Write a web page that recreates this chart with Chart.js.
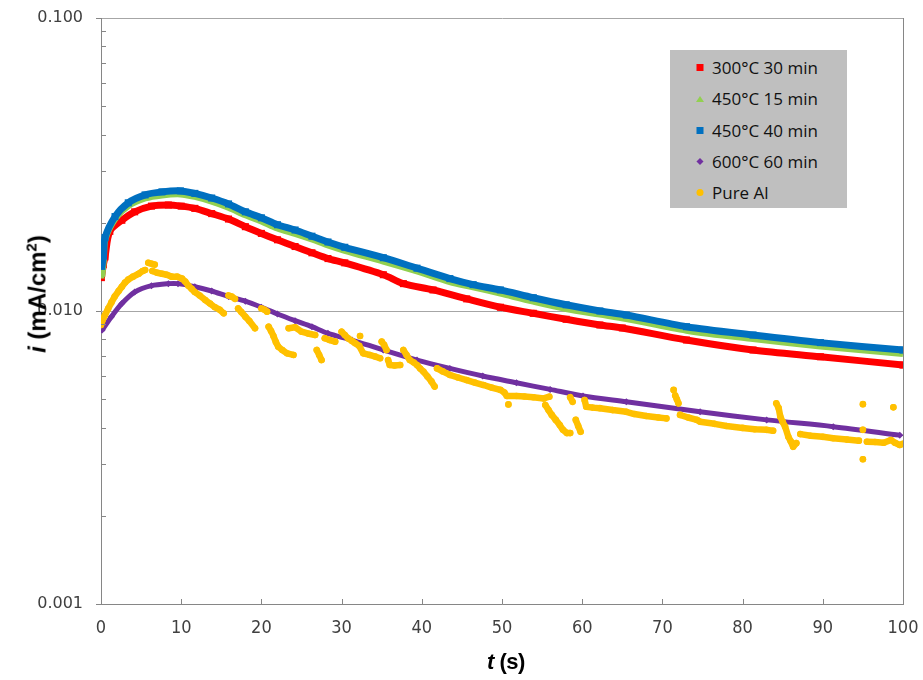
<!DOCTYPE html>
<html>
<head>
<meta charset="utf-8">
<script src="https://cdn.jsdelivr.net/npm/chart.js@4.4.1/dist/chart.umd.min.js"></script>
<style>
  html, body { margin: 0; padding: 0; background: #fff; }
  #wrap { position: relative; width: 923px; height: 680px; }
  #chart { position: absolute; left: 0; top: 0; }
  .ttl { position: absolute; font-family: 'Liberation Sans', Arial, sans-serif; font-weight: bold; color: #000; white-space: nowrap; }
  #ytitle { left: 37px; top: 294px; font-size: 24px; transform: translate(-50%, -50%) rotate(-90deg); }
  #xtitle { left: 506px; top: 662px; font-size: 22px; letter-spacing: -0.5px; transform: translate(-50%, -50%); }
  #legend { position: absolute; left: 670px; top: 50px; width: 177px; height: 158px; background: #BFBFBF; }
  .row { position: absolute; left: 0; height: 31px; display: flex; align-items: center; font-family: 'Open Sans', sans-serif; font-size: 17px; color: #111; }
  .mk { position: absolute; left: 30px; transform: translate(-50%, 0); }
  .txt { position: absolute; left: 42px; white-space: nowrap; }
</style>
</head>
<body>
<div id="wrap">
  <canvas id="chart" width="923" height="680"></canvas>
  <div id="ytitle" class="ttl"><i>i</i> (mA/cm<sup style="font-size:15px">2</sup>)</div>
  <div id="xtitle" class="ttl"><i>t</i> (s)</div>
  <div id="legend"></div>
</div>
<script>
// Series names and colours
const seriesNames = ['300°C 30 min', '450°C 15 min', '450°C 40 min', '600°C 60 min', 'Pure Al'];
const seriesColors = ['#FF0000', '#92D050', '#0070C0', '#7030A0', '#FFC000'];

// Axis ticks
const xTicks = [0, 10, 20, 30, 40, 50, 60, 70, 80, 90, 100];
const yMajorTicks = [0.001, 0.01, 0.1];

// 300°C 30 min
const t300 = [0.05, 0.3, 0.5, 1.1, 2.6, 4.2, 6.3, 8.4, 10, 11.7, 13.8, 15.9, 18, 20, 22, 24.2, 26.3, 28.3, 30.4, 35.2, 37.7, 41.4, 45.6, 49.8, 53.9, 58, 62.2, 65, 73, 81.3, 89.7, 100];
const i300 = [0.0130, 0.0144, 0.0153, 0.0187, 0.0204, 0.0218, 0.0228, 0.0230, 0.0228, 0.0224, 0.0215, 0.0206, 0.0194, 0.0184, 0.0175, 0.0166, 0.0158, 0.0151, 0.0146, 0.0133, 0.0124, 0.0118, 0.0110, 0.0103, 0.00982, 0.00937, 0.00896, 0.00875, 0.00796, 0.00736, 0.00698, 0.00654];

// 450°C 15 min
const t450a = [0.1, 0.3, 0.5, 1.75, 3.4, 5.5, 7.6, 9.9, 11.7, 13.8, 15.9, 18, 20, 22, 24.2, 26.3, 28.3, 30.4, 35.2, 39.4, 43.5, 46.4, 49.8, 53.9, 58, 62.2, 65.5, 73, 81.3, 89.7, 100];
const i450a = [0.0131, 0.0150, 0.0176, 0.0207, 0.0229, 0.0243, 0.0249, 0.0251, 0.0246, 0.0237, 0.0226, 0.0213, 0.0203, 0.0192, 0.0184, 0.0176, 0.0168, 0.0161, 0.0148, 0.0137, 0.0126, 0.0121, 0.0115, 0.0108, 0.0102, 0.00976, 0.00943, 0.00860, 0.00805, 0.00759, 0.00716];

// 450°C 40 min
const t450b = [0.1, 0.3, 0.5, 1.75, 3.4, 5.5, 7.6, 9.9, 11.7, 13.8, 15.9, 18, 20, 22, 24.2, 26.3, 28.3, 30.4, 35.2, 39.4, 43.5, 46.4, 49.8, 53.9, 58, 62.2, 65.5, 73, 81.3, 89.7, 100];
const i450b = [0.0142, 0.0154, 0.0178, 0.0210, 0.0234, 0.0249, 0.0255, 0.0257, 0.0252, 0.0243, 0.0232, 0.0218, 0.0208, 0.0197, 0.0189, 0.0180, 0.0172, 0.0165, 0.0152, 0.0140, 0.0129, 0.0123, 0.0118, 0.0111, 0.0105, 0.0100, 0.00969, 0.00884, 0.00828, 0.00780, 0.00736];

// 600°C 60 min
const t600 = [0.15, 1.3, 2.6, 4.2, 6.3, 8.4, 9.6, 11.7, 13.8, 15.9, 18, 20, 22, 24.2, 26.3, 28.3, 31.3, 35.2, 39.4, 43.5, 47.6, 51.8, 56, 60.1, 65.5, 74.7, 83, 91.3, 99.6];
const i600 = [0.00861, 0.00956, 0.0106, 0.0116, 0.0122, 0.0124, 0.0124, 0.0121, 0.0117, 0.0112, 0.0108, 0.0103, 0.00977, 0.00927, 0.00884, 0.00839, 0.00796, 0.00736, 0.00680, 0.00637, 0.00600, 0.00569, 0.00540, 0.00513, 0.00490, 0.00453, 0.00425, 0.00403, 0.00377];

// Pure Al (null separates runs of readings)
const tAl = [
  0, 0.2, 0.5, 0.9, 1.3, 1.7, 2.2, 2.6, 3.0, 3.4, 4.0, 4.7, 5.2, 5.5, null,
  5.9, 6.3, 6.7, null,
  6.4, 7.0, 7.6, 8.2, 8.8, 9.5, 10.1, 10.5, 10.9, 11.3, 11.7, 12.3, 13.0, 13.6, 14.2, 14.8, 15.3, null,
  15.9, 16.3, 16.7, null,
  17.1, 17.5, 18.0, 18.5, 19.2, null,
  20.0, 20.4, 20.7, null,
  20.9, 21.2, 21.5, 21.8, 22.1, 22.6, 23.2, 24.0, null,
  23.4, 24.2, 25.0, 25.8, 26.7, null,
  26.9, 27.2, 27.5, null,
  27.9, 28.5, 29.2, null,
  30.0, 30.4, 30.8, 31.3, 31.7, 32.2, 32.7, 33.5, 34.2, 34.8, null,
  32.3, null,
  35.0, 35.3, 35.6, null,
  35.8, 36.0, 36.6, 37.3, null,
  37.7, 38.1, 38.5, 39.0, 39.4, 39.8, 40.2, 40.7, 41.2, 41.6, null,
  41.9, 42.6, 43.5, 44.5, 45.6, 46.6, 47.7, 48.7, 49.8, 50.3, 50.6, 51.8, 52.8, 53.9, 55.2, 55.9, null,
  50.8, null,
  55.4, 55.8, 56.2, 56.7, 57.2, 57.6, 58.1, 58.5, null,
  58.5, 58.8, null,
  59.2, 59.5, 59.8, null,
  60.3, 60.5, 61.3, 62.2, 63.8, 65.5, 66.5, 68.0, 69.5, 70.5, null,
  71.4, null,
  71.6, 71.8, 72.0, null,
  72.2, 73.2, 74.3, 74.7, 76.5, 78.0, 80.0, 81.5, 83.0, 83.8, null,
  84.2, 84.5, 84.7, 85.0, 85.3, 85.7, 86.0, 86.3, 86.7, null,
  87.2, 88.5, 90.0, 91.3, 93.0, 94.5, null,
  95.5, 96.5, 97.6, 98.5, 99.0, 99.6, 100, null,
  95.0, null, 95.0, null, 95.0, null, 98.8
];
const iAl = [
  0.00896, 0.00932, 0.00969, 0.0102, 0.0107, 0.0112, 0.0117, 0.0121, 0.0125, 0.0128, 0.0131, 0.0134, 0.0137, 0.0138, null,
  0.0146, 0.0145, 0.0144, null,
  0.0137, 0.0135, 0.0134, 0.0133, 0.0131, 0.0131, 0.0129, 0.0126, 0.0122, 0.0119, 0.0116, 0.0113, 0.0109, 0.0106, 0.0103, 0.0101, 0.00982, null,
  0.0113, 0.0112, 0.0110, null,
  0.0102, 0.00992, 0.00956, 0.00924, 0.00873, null,
  0.0102, 0.0101, 0.00995, null,
  0.00884, 0.00855, 0.00822, 0.00784, 0.00755, 0.00736, 0.00717, 0.00708, null,
  0.00873, 0.00880, 0.00850, 0.00838, 0.00828, null,
  0.00736, 0.00708, 0.00680, null,
  0.00807, 0.00796, 0.00786, null,
  0.00850, 0.00828, 0.00807, 0.00790, 0.00776, 0.00760, 0.00717, 0.00708, 0.00699, 0.00690, null,
  0.00822, null,
  0.00786, 0.00766, 0.00736, null,
  0.00680, 0.00654, 0.00652, 0.00654, null,
  0.00736, 0.00708, 0.00680, 0.00667, 0.00654, 0.00636, 0.00621, 0.00598, 0.00575, 0.00552, null,
  0.00637, 0.00622, 0.00605, 0.00593, 0.00581, 0.00570, 0.00559, 0.00548, 0.00538, 0.00527, 0.00513, 0.00513, 0.00511, 0.00508, 0.00503, 0.00510, null,
  0.00480, null,
  0.00478, 0.00459, 0.00442, 0.00425, 0.00408, 0.00393, 0.00383, 0.00383, null,
  0.00508, 0.00490, null,
  0.00425, 0.00405, 0.00387, null,
  0.00497, 0.00471, 0.00468, 0.00466, 0.00459, 0.00453, 0.00445, 0.00438, 0.00433, 0.00430, null,
  0.00538, null,
  0.00515, 0.00500, 0.00484, null,
  0.00442, 0.00433, 0.00425, 0.00419, 0.00412, 0.00405, 0.00399, 0.00395, 0.00393, 0.00390, null,
  0.00484, 0.00466, 0.00436, 0.00418, 0.00403, 0.00372, 0.00359, 0.00344, 0.00354, null,
  0.00380, 0.00375, 0.00372, 0.00368, 0.00364, 0.00361, null,
  0.00358, 0.00357, 0.00355, 0.00363, 0.00355, 0.00349, 0.00352, null,
  0.00481, null, 0.00393, null, 0.00312, null, 0.00469
];

const pts = (ts, vs) => ts.map((t, k) => ({ x: t, y: vs[k] }));

const smoothSeries = (k, ts, vs, style, radius, width, order) => ({
  label: seriesNames[k],
  data: pts(ts, vs),
  showLine: true,
  borderColor: seriesColors[k],
  backgroundColor: seriesColors[k],
  borderWidth: width,
  pointStyle: style,
  pointRadius: radius,
  pointBorderWidth: 0,
  tension: 0.3,
  order: order
});

const datasets = [
  smoothSeries(0, t300, i300, 'rect', 5, 7, 5),
  smoothSeries(1, t450a, i450a, 'triangle', 3.5, 7, 4),
  smoothSeries(2, t450b, i450b, 'rect', 5, 7, 3),
  smoothSeries(3, t600, i600, 'rectRot', 3.5, 5, 2),
  {
    label: seriesNames[4],
    data: pts(tAl, iAl),
    showLine: true,
    spanGaps: false,
    borderColor: seriesColors[4],
    backgroundColor: seriesColors[4],
    borderWidth: 6.5,
    borderCapStyle: 'round',
    borderJoinStyle: 'round',
    pointStyle: 'circle',
    pointRadius: 3.3,
    pointBorderWidth: 0,
    tension: 0,
    order: 1
  }
];

// Tick marks: majors outside on the value axis, minors inside; time ticks inside
const tickMarks = {
  id: 'tickMarks',
  afterDatasetsDraw(chart) {
    const { ctx, chartArea, scales } = chart;
    const xs = scales.x, ys = scales.y;
    ctx.save();
    ctx.strokeStyle = '#868686';
    ctx.lineWidth = 1;
    ctx.beginPath();
    // right frame line
    ctx.moveTo(Math.round(chartArea.right) + 0.5, chartArea.top);
    ctx.lineTo(Math.round(chartArea.right) + 0.5, chartArea.bottom);
    for (let e = -3; e < -1; e++) {
      for (let m = 2; m <= 9; m++) {
        const py = Math.round(ys.getPixelForValue(m * Math.pow(10, e))) + 0.5;
        ctx.moveTo(chartArea.left, py);
        ctx.lineTo(chartArea.left + 5, py);
      }
    }
    yMajorTicks.forEach(v => {
      const py = Math.round(ys.getPixelForValue(v)) + 0.5;
      ctx.moveTo(chartArea.left - 5, py);
      ctx.lineTo(chartArea.left, py);
    });
    xTicks.forEach(v => {
      const px = Math.round(xs.getPixelForValue(v)) + 0.5;
      ctx.moveTo(px, chartArea.bottom);
      ctx.lineTo(px, chartArea.bottom - 5);
    });
    ctx.stroke();
    ctx.restore();
  }
};

new Chart(document.getElementById('chart'), {
  type: 'scatter',
  data: { datasets },
  plugins: [tickMarks],
  options: {
    responsive: false,
    animation: false,
    devicePixelRatio: 1,
    layout: { padding: { top: 18, right: 20, left: 0, bottom: 0 } },
    plugins: { legend: { display: false }, tooltip: { enabled: false } },
    scales: {
      x: {
        type: 'linear',
        min: 0,
        max: 100,
        afterBuildTicks: s => { s.ticks = xTicks.map(v => ({ value: v })); },
        afterFit: s => { s.height = 76; s.paddingLeft = 0; s.paddingRight = 0; },
        grid: { display: false, drawTicks: false },
        border: { display: true, color: '#868686', width: 1 },
        ticks: {
          padding: 14,
          color: '#404040',
          maxRotation: 0,
          font: { family: "'Liberation Sans Narrow', 'DejaVu Sans Condensed', sans-serif", size: 18 }
        }
      },
      y: {
        type: 'logarithmic',
        min: 0.001,
        max: 0.1,
        afterBuildTicks: s => { s.ticks = yMajorTicks.map(v => ({ value: v, major: true })); },
        afterFit: s => { s.width = 101; s.paddingTop = 0; s.paddingBottom = 0; },
        grid: {
          drawTicks: false,
          color: '#A6A6A6',
          lineWidth: 1
        },
        border: { display: true, color: '#868686', width: 1 },
        ticks: {
          padding: 18,
          color: '#404040',
          font: { family: "'DejaVu Sans', sans-serif", size: 16 },
          callback: v => Number(v).toFixed(3)
        }
      }
    }
  }
});

// Legend box
const legend = document.getElementById('legend');
const markerCss = [
  'width:7px;height:7px;background:' + seriesColors[0],
  'width:0;height:0;border-left:4px solid transparent;border-right:4px solid transparent;border-bottom:6px solid ' + seriesColors[1],
  'width:7px;height:7px;background:' + seriesColors[2],
  'width:5px;height:5px;background:' + seriesColors[3] + ';transform:translate(-50%,0) rotate(45deg)',
  'width:7px;height:7px;border-radius:50%;background:' + seriesColors[4]
];
seriesNames.forEach((name, k) => {
  const row = document.createElement('div');
  row.className = 'row';
  row.style.top = (2 + k * 31.3) + 'px';
  row.style.width = '177px';
  const mk = document.createElement('span');
  mk.className = 'mk';
  mk.style.cssText += markerCss[k];
  const tx = document.createElement('span');
  tx.className = 'txt';
  tx.textContent = name;
  row.appendChild(mk);
  row.appendChild(tx);
  legend.appendChild(row);
});
</script>
</body>
</html>
